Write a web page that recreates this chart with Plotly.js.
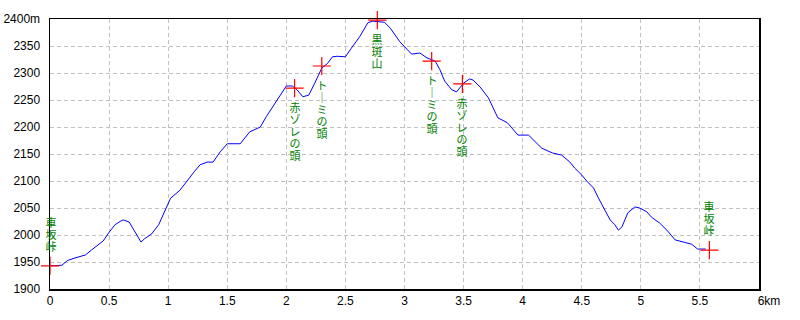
<!DOCTYPE html>
<html>
<head>
<meta charset="utf-8">
<script src="https://cdn.plot.ly/plotly-3.0.1.min.js"></script>
<style>html,body{margin:0;padding:0;background:#fff;}#chart{width:800px;height:320px;}</style>
</head>
<body>
<div id="chart"></div>
<script>
// Profile: distance (km) and elevation (m)
const distKm = [0,0.03,0.1,0.15,0.22,0.3,0.35,0.45,0.5,0.55,0.6,0.62,0.67,0.72,0.77,0.8,0.86,0.92,0.97,1.02,1.1,1.17,1.22,1.27,1.33,1.38,1.44,1.5,1.61,1.69,1.78,1.83,1.92,2.0,2.05,2.09,2.14,2.19,2.24,2.3,2.35,2.39,2.43,2.47,2.5,2.55,2.62,2.69,2.73,2.83,2.88,2.96,3.06,3.13,3.19,3.26,3.3,3.34,3.4,3.44,3.5,3.55,3.58,3.64,3.71,3.79,3.87,3.96,4.05,4.16,4.25,4.33,4.4,4.44,4.5,4.55,4.6,4.64,4.7,4.74,4.78,4.81,4.84,4.89,4.95,4.99,5.05,5.09,5.16,5.22,5.29,5.33,5.39,5.43,5.48,5.55];
const elevM = [1944,1943,1944,1953,1958,1963,1972,1989,2005,2019,2026,2028,2024,2006,1987,1993,2002,2019,2044,2068,2083,2104,2117,2130,2135,2135,2154,2169,2169,2191,2200,2219,2250,2276,2276,2269,2256,2259,2281,2309,2318,2330,2331,2331,2330,2346,2367,2393,2396,2394,2383,2358,2335,2337,2328,2322,2306,2285,2269,2265,2281,2289,2287,2274,2254,2217,2208,2185,2185,2161,2152,2148,2135,2124,2111,2098,2087,2069,2043,2028,2019,2009,2015,2041,2052,2050,2043,2033,2022,2009,1991,1989,1985,1983,1974,1974];

// Waypoints
const wpNames = ["車坂峠","赤ゾレの頭","トーミの頭","黒斑山","トーミの頭","赤ゾレの頭","車坂峠"];
const wpKm    = [0, 2.07, 2.30, 2.77, 3.23, 3.49, 5.58];
const wpElev  = [1943, 2272, 2313, 2398, 2322, 2280, 1972];
const wpLabelAbove = [true, false, false, false, false, false, true];

// Axis ticks
const xTickVals = [0,0.5,1,1.5,2,2.5,3,3.5,4,4.5,5,5.5,6];
const xTickText = ["0","0.5","1","1.5","2","2.5","3","3.5","4","4.5","5","5.5","\u2007\u2007\u20076km"];
const yTickVals = [1900,1950,2000,2050,2100,2150,2200,2250,2300,2350,2400];
const yTickText = ["1900","1950","2000","2050","2100","2150","2200","2250","2300","2350","2400m"];

// Vertical labels: one annotation per character, stacked at a 12px pitch
const annotations = [];
wpNames.forEach((name, k) => {
  const chars = Array.from(name).map(c => c === "ー" ? "｜" : c);
  const n = chars.length;
  chars.forEach((c, i) => {
    const shift = wpLabelAbove[k] ? (20 + (n - 1 - i) * 12) : -(19 + i * 12);
    annotations.push({
      x: wpKm[k], y: wpElev[k], xref: 'x', yref: 'y',
      text: c, showarrow: false, xanchor: 'center', yanchor: 'middle',
      xshift: k === 0 ? 1 : 0,
      yshift: shift, height: 12, width: 12, borderpad: 0,
      font: {family: '"Noto Sans CJK JP", sans-serif', size: 11, color: '#008000'}
    });
  });
});

const traces = [
  {x: distKm, y: elevM, type: 'scatter', mode: 'lines',
   line: {color: '#0000ff', width: 1}, hoverinfo: 'skip', cliponaxis: false},
  {x: wpKm, y: wpElev, type: 'scatter', mode: 'markers',
   marker: {symbol: 'cross-thin-open', size: 13, color: '#ff0000', line: {color: '#ff0000', width: 1.2}},
   hoverinfo: 'skip', cliponaxis: false}
];

const tickFont = {family: '"Liberation Sans Narrow", "Liberation Sans", "DejaVu Sans Condensed", sans-serif', size: 12, color: '#000'};

const layout = {
  width: 800, height: 320,
  margin: {l: 50, r: 41, t: 19, b: 31, pad: 0},
  paper_bgcolor: '#fff', plot_bgcolor: '#fff',
  showlegend: false,
  xaxis: {
    range: [0, 6], tickvals: xTickVals, ticktext: xTickText,
    showgrid: true, gridcolor: '#c0c0c0', griddash: '4px,3px', gridwidth: 1,
    showline: true, linecolor: '#000', linewidth: 1.5, mirror: true,
    zeroline: false, ticks: '', tickfont: tickFont, fixedrange: true
  },
  yaxis: {
    range: [1900, 2400], tickvals: yTickVals, ticktext: yTickText,
    showgrid: true, gridcolor: '#c0c0c0', griddash: '4px,3px', gridwidth: 1,
    showline: true, linecolor: '#000', linewidth: 1.5, mirror: true,
    zeroline: false, ticks: '', ticklabelstandoff: 6, tickfont: tickFont, fixedrange: true
  },
  annotations: annotations
};

Plotly.newPlot('chart', traces, layout, {staticPlot: true, displayModeBar: false});
</script>
</body>
</html>
